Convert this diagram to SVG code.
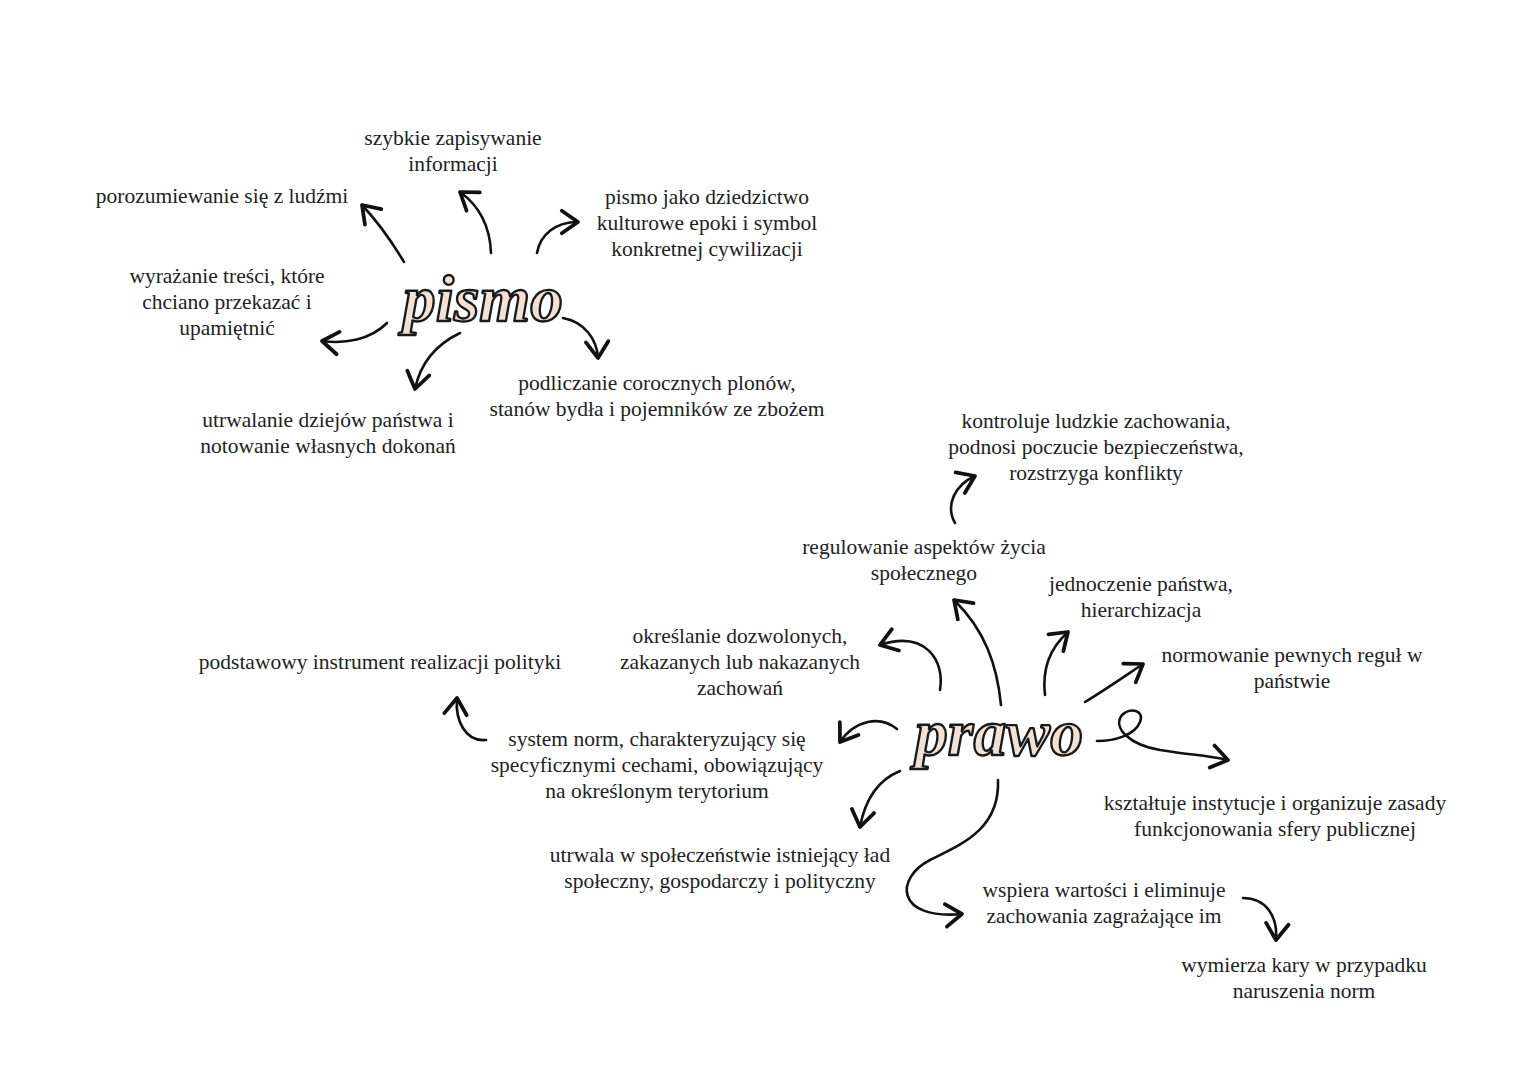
<svg xmlns="http://www.w3.org/2000/svg" width="1527" height="1080" viewBox="0 0 1527 1080">
<defs>
<style>
.t{font-family:"Liberation Serif","Times New Roman",serif;font-size:21.5px;fill:#222;text-anchor:middle}
.title{font-family:"Liberation Serif","Times New Roman",serif;font-style:italic;font-weight:bold;fill:#f2e1d5;stroke:#1a1a1a;stroke-width:2.4;stroke-linejoin:round;text-anchor:middle}
.c{fill:none;stroke:#111;stroke-width:2.6;stroke-linecap:round;marker-end:url(#ah)}
</style>
<marker id="ah" markerUnits="userSpaceOnUse" markerWidth="30" markerHeight="30" refX="0" refY="0" viewBox="-16 -12 20 24" orient="auto">
<path d="M-13,-9 L0,0 L-13,9" fill="none" stroke="#111" stroke-width="3" stroke-linecap="round" stroke-linejoin="round"/>
</marker>
</defs>
<rect width="1527" height="1080" fill="#fff"/>

<g id="connectors">
<path class="c" d="M404,262 C392,242 378,222 362,205"/>
<path class="c" d="M491,253 C490,225 478,205 460,192"/>
<path class="c" d="M537,253 C540,235 555,222 578,222"/>
<path class="c" d="M387,323 C370,340 345,344 322,341"/>
<path class="c" d="M460,333 C435,345 420,365 415,389"/>
<path class="c" d="M563,318 C585,322 597,340 598,358"/>
<path class="c" d="M955,523 C945,505 955,485 975,476"/>
<path class="c" d="M1001,705 C997,665 985,630 954,600"/>
<path class="c" d="M940,690 C945,660 925,630 880,645"/>
<path class="c" d="M1045,695 C1042,670 1050,648 1068,632"/>
<path class="c" d="M1085,702 C1105,690 1125,676 1143,664"/>
<path class="c" d="M1097,741 C1115,741 1135,735 1140,722 C1145,710 1130,707 1122,715 C1112,728 1130,745 1160,750 C1190,755 1205,755 1228,760"/>
<path class="c" d="M897,729 C880,715 855,720 840,742"/>
<path class="c" d="M486,740 C465,742 455,720 457,698"/>
<path class="c" d="M900,771 C878,780 865,800 860,827"/>
<path class="c" d="M998,780 C1000,830 960,845 930,860 C895,878 895,920 962,914"/>
<path class="c" d="M1243,898 C1265,898 1278,915 1276,940"/>
</g>

<g id="pismo"><text class="title" x="483" y="321" font-size="66" textLength="160" lengthAdjust="spacingAndGlyphs">pismo</text></g>
<g id="prawo"><text class="title" x="999" y="755" font-size="66" textLength="168" lengthAdjust="spacingAndGlyphs">prawo</text></g>

<g id="n1"><text class="t" x="453" y="145">szybkie zapisywanie</text><text class="t" x="453" y="171">informacji</text></g>
<g id="n2"><text class="t" x="222" y="203">porozumiewanie się z ludźmi</text></g>
<g id="n3"><text class="t" x="707" y="204">pismo jako dziedzictwo</text><text class="t" x="707" y="230">kulturowe epoki i symbol</text><text class="t" x="707" y="256">konkretnej cywilizacji</text></g>
<g id="n4"><text class="t" x="227" y="283">wyrażanie treści, które</text><text class="t" x="227" y="309">chciano przekazać i</text><text class="t" x="227" y="335">upamiętnić</text></g>
<g id="n5"><text class="t" x="657" y="390">podliczanie corocznych plonów,</text><text class="t" x="657" y="416">stanów bydła i pojemników ze zbożem</text></g>
<g id="n6"><text class="t" x="328" y="427">utrwalanie dziejów państwa i</text><text class="t" x="328" y="453">notowanie własnych dokonań</text></g>

<g id="n7"><text class="t" x="1096" y="428">kontroluje ludzkie zachowania,</text><text class="t" x="1096" y="454">podnosi poczucie bezpieczeństwa,</text><text class="t" x="1096" y="480">rozstrzyga konflikty</text></g>
<g id="n8"><text class="t" x="924" y="554">regulowanie aspektów życia</text><text class="t" x="924" y="580">społecznego</text></g>
<g id="n9"><text class="t" x="1141" y="591">jednoczenie państwa,</text><text class="t" x="1141" y="617">hierarchizacja</text></g>
<g id="n10"><text class="t" x="740" y="643">określanie dozwolonych,</text><text class="t" x="740" y="669">zakazanych lub nakazanych</text><text class="t" x="740" y="695">zachowań</text></g>
<g id="n11"><text class="t" x="380" y="669">podstawowy instrument realizacji polityki</text></g>
<g id="n12"><text class="t" x="1292" y="662">normowanie pewnych reguł w</text><text class="t" x="1292" y="688">państwie</text></g>
<g id="n13"><text class="t" x="657" y="746">system norm, charakteryzujący się</text><text class="t" x="657" y="772">specyficznymi cechami, obowiązujący</text><text class="t" x="657" y="798">na określonym terytorium</text></g>
<g id="n14"><text class="t" x="1275" y="810">kształtuje instytucje i organizuje zasady</text><text class="t" x="1275" y="836">funkcjonowania sfery publicznej</text></g>
<g id="n15"><text class="t" x="720" y="862">utrwala w społeczeństwie istniejący ład</text><text class="t" x="720" y="888">społeczny, gospodarczy i polityczny</text></g>
<g id="n16"><text class="t" x="1104" y="897">wspiera wartości i eliminuje</text><text class="t" x="1104" y="923">zachowania zagrażające im</text></g>
<g id="n17"><text class="t" x="1304" y="972">wymierza kary w przypadku</text><text class="t" x="1304" y="998">naruszenia norm</text></g>
</svg>
